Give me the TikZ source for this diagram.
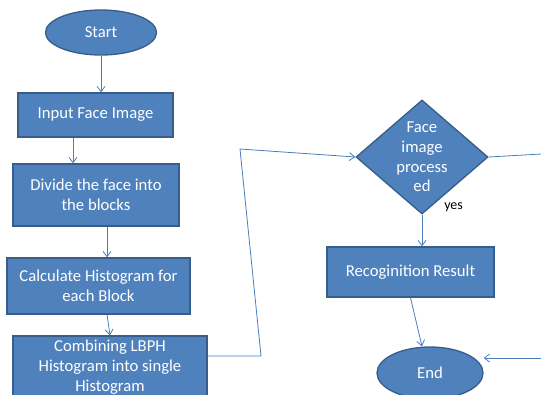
\documentclass[tikz,border=0pt]{standalone}
\usepackage{fontspec}
\setmainfont{Carlito}
\usetikzlibrary{shapes.geometric, arrows.meta}
\definecolor{boxblue}{RGB}{79,129,189}
\definecolor{edgeblue}{RGB}{56,93,138}
\definecolor{lineblue}{RGB}{74,126,187}

\begin{document}
\begin{tikzpicture}[x=0.75pt, y=-0.75pt,
    flowbox/.style={rectangle, draw=edgeblue, fill=boxblue, line width=1pt, text=white,
                    align=center, inner sep=2pt, font=\fontsize{12.5}{14.8}\selectfont},
    terminal/.style={flowbox, ellipse},
    decision/.style={flowbox, diamond, inner sep=-10pt},
    arrow/.style={-{Straight Barb[length=4pt, width=6pt]}, lineblue, line width=0.6pt},
    link/.style={lineblue, line width=0.6pt}]

    \useasboundingbox (0,0) rectangle (541,394);

    \node[terminal, minimum width=83.25pt, minimum height=33.75pt] (start) at (101,32.5) {Start};
    \node[flowbox, minimum width=116.25pt, minimum height=33pt] (input) at (95.5,115) {Input Face Image};
    \node[flowbox, minimum width=124.5pt, minimum height=46.5pt] (divide) at (96,195) {Divide the face into\\the blocks};
    \node[flowbox, minimum width=137.25pt, minimum height=42pt] (calc) at (98.5,286) {Calculate Histogram for\\each Block};
    \node[flowbox, minimum width=145.5pt, minimum height=46.5pt] (combine) at (110,367) {Combining LBPH\\Histogram into single\\Histogram};
    \node[decision, minimum width=99pt, minimum height=85.5pt] (check) at (422,157) {Face\\image\\process\\ed};
    \node[flowbox, minimum width=125.25pt, minimum height=37.5pt] (result) at (410.5,272) {Recoginition Result};
    \node[terminal, minimum width=79.5pt, minimum height=39pt] (stop) at (430,373) {End};
    \node[font=\fontsize{10.5}{12}\selectfont, anchor=west, inner sep=0pt] (yes) at (444,207) {yes};

    \coordinate (bendA) at (261,356);
    \coordinate (bendB) at (240,149);
    \coordinate (exitR) at (541,154);
    \coordinate (entryR) at (541,358);

    \draw[arrow] (start) -- (start.south |- input.north);
    \draw[arrow] ([xshift=-16.9pt]input.south) -- ([xshift=-16.9pt]input.south |- divide.north);
    \draw[arrow] ([xshift=8.25pt]divide.south) -- ([xshift=8.25pt]divide.south |- calc.north);
    \draw[arrow] ([xshift=6.4pt]calc.south) -- (combine.north);
    \draw[arrow] ([yshift=8.25pt]combine.east) -- (bendA) -- (bendB) -- (check.west);
    \draw[link] (check.east) -- (exitR);
    \draw[arrow] (check.south) -- (check.south |- result.north);
    \draw[arrow] (result.south) -- ([xshift=-6pt]stop.north);
    \draw[arrow] (entryR) -- (entryR -| stop.east);
\end{tikzpicture}
\end{document}
